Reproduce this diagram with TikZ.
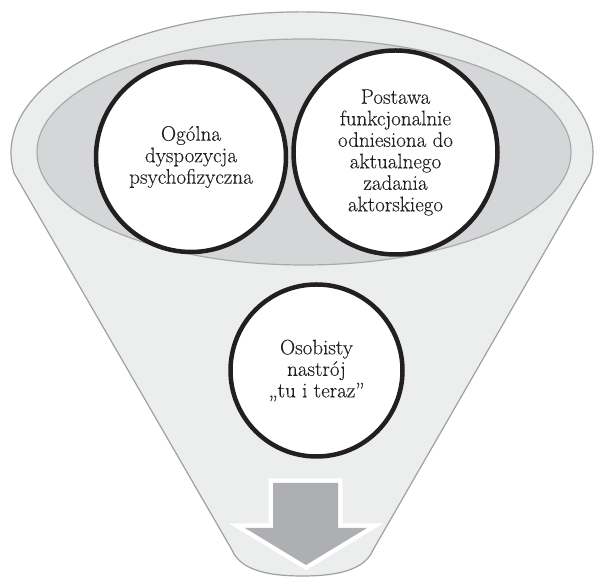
\documentclass[tikz,border=0pt]{standalone}
\usepackage{fontspec}
\usepackage{tikz}
\usetikzlibrary{shapes,arrows,positioning,calc}
\newfontfamily\labelfont{Latin Modern Roman}[FakeBold=0.15]
\definecolor{funnelfill}{RGB}{236,237,237}
\definecolor{funnelline}{RGB}{158,160,163}
\definecolor{bowlfill}{RGB}{213,214,216}
\definecolor{bowlline}{RGB}{168,170,173}
\definecolor{arrowfill}{RGB}{174,175,178}
\definecolor{inkblack}{RGB}{35,31,32}

\begin{document}
\begin{tikzpicture}[x=1pt,y=1pt,
    idea/.style={circle, draw=inkblack, line width=4.5pt, fill=white, text=inkblack,
      align=center, font=\labelfont\fontsize{21}{21.5}\selectfont, inner sep=0pt}]
  \useasboundingbox (0,0) rectangle (595,577);
  \filldraw[fill=funnelfill, draw=funnelline, line width=1.2pt]
    (14,404) arc[start angle=188.2, end angle=-8.2, x radius=291, y radius=141]
    -- (373,27) .. controls (365,8) and (340,1) .. (302.5,1)
    .. controls (265,1) and (240,8) .. (232,27) -- cycle;
  \filldraw[fill=bowlfill, draw=bowlline, line width=1.2pt] (304,425) ellipse [x radius=267, y radius=113];
  \node[idea, minimum size=190pt] (general) at (191,420) {Ogólna\\dyspozycja\\psychofizyczna};
  \node[idea, minimum size=204pt] (attitude) at (395.5,424.5) {Postawa\\funkcjonalnie\\odniesiona do\\aktualnego\\zadania\\aktorskiego};
  \node[idea, minimum size=172pt] (mood) at (316.5,206.5) {Osobisty\\nastrój\\„tu i teraz”};
  \path[fill=arrowfill, preaction={draw=white, line width=9pt}]
    (273,94) -- (338,94) -- (338,49) -- (367,49) -- (306,12) -- (245,49) -- (273,49) -- cycle;
\end{tikzpicture}
\end{document}
